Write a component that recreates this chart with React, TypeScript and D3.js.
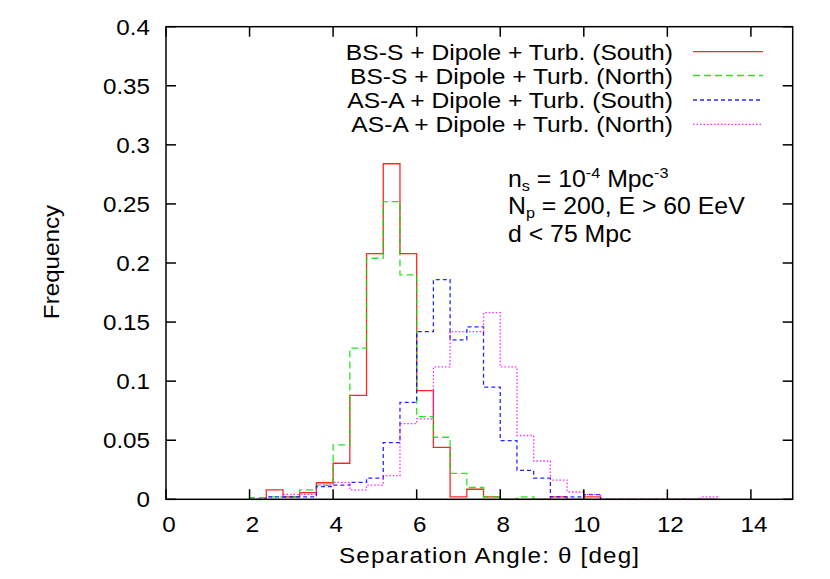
import React from "react";
import * as d3 from "d3";

// Bin left edges (deg), bin width 0.4
const binLefts = [2.0, 2.4, 2.8, 3.2, 3.6, 4.0, 4.4, 4.8, 5.2, 5.6, 6.0, 6.4, 6.8, 7.2, 7.6, 8.0, 8.4, 8.8, 9.2, 9.6, 10.0, 10.4, 10.8, 11.2, 11.6, 12.0, 12.4, 12.8];
const binWidth = 0.4;

const bssSouth = [0, 0.008, 0.002, 0.0056, 0.014, 0.0305, 0.088, 0.208, 0.284, 0.208, 0.092, 0.044, 0.002, 0.0085, 0.002, 0, 0, 0, 0.002, 0, 0.002, 0, 0, 0, 0, 0, 0, 0];
const bssNorth = [0.0015, 0.002, 0.002, 0.008, 0.012, 0.046, 0.128, 0.204, 0.252, 0.19, 0.07, 0.0525, 0.022, 0.01, 0.002, 0, 0.002, 0, 0, 0, 0, 0, 0, 0, 0, 0, 0, 0];
const asaSouth = [0, 0.002, 0.002, 0.002, 0.0107, 0.012, 0.0144, 0.018, 0.048, 0.082, 0.142, 0.186, 0.135, 0.146, 0.095, 0.0496, 0.0245, 0.018, 0.002, 0.002, 0.004, 0, 0, 0, 0, 0, 0, 0];
const asaNorth = [0, 0, 0.0042, 0.0042, 0.012, 0.0144, 0.008, 0.012, 0.02, 0.064, 0.068, 0.112, 0.142, 0.142, 0.158, 0.112, 0.054, 0.0324, 0.0163, 0.0062, 0.0042, 0, 0, 0, 0, 0, 0, 0.002];

const seriesNames = [
  "BS-S + Dipole + Turb. (South)",
  "BS-S + Dipole + Turb. (North)",
  "AS-A + Dipole + Turb. (South)",
  "AS-A + Dipole + Turb. (North)",
];
const seriesValues = [bssSouth, bssNorth, asaSouth, asaNorth];
const seriesColors = ["#ff0000", "#00e000", "#0000ff", "#ff00ff"];
const seriesDash = ["none", "7,4", "4,3", "1.5,2"];

const xTicks = [0, 2, 4, 6, 8, 10, 12, 14];
const yTicks = [0, 0.05, 0.1, 0.15, 0.2, 0.25, 0.3, 0.35, 0.4];
const yTickLabels = ["0", "0.05", "0.1", "0.15", "0.2", "0.25", "0.3", "0.35", "0.4"];

const W = 830;
const H = 579;
const L = 166;
const R = 792.7;
const T = 26.7;
const B = 499.3;
const FONT = "'Liberation Sans', Arial, Helvetica, sans-serif";
const FS = 22;
const SX = 1.1;

function ST(props: { x: number; y: number; anchor?: string; children: React.ReactNode; size?: number; rotate?: number; sx?: number; len?: number }) {
  const { x, y, anchor = "start", children, size = FS, rotate = 0, sx = SX, len } = props;
  const tr = rotate
    ? `translate(${x},${y}) rotate(${rotate}) scale(${sx},1)`
    : `translate(${x},${y}) scale(${sx},1)`;
  return (
    <text
      transform={tr}
      textAnchor={anchor}
      fontFamily={FONT}
      fontSize={size}
      fill="#000"
      textLength={len}
      lengthAdjust={len ? "spacing" : undefined}
    >
      {children}
    </text>
  );
}

export default function App() {
  const x = d3.scaleLinear().domain([0, 15]).range([L, R]);
  const y = d3.scaleLinear().domain([0, 0.4]).range([B, T]);

  const line = d3
    .line<[number, number]>()
    .x((d) => x(d[0]))
    .y((d) => y(d[1]))
    .curve(d3.curveStepAfter);

  const paths = seriesValues.map((vals) => {
    const pts: [number, number][] = [];
    pts.push([binLefts[0], 0]);
    vals.forEach((v, i) => pts.push([binLefts[i], v]));
    const lastEdge = binLefts[binLefts.length - 1] + binWidth;
    pts.push([lastEdge, vals[vals.length - 1]]);
    pts.push([lastEdge, 0]);
    return line(pts) as string;
  });

  const tickLen = 10;
  const legendRows = [51.7, 75.5, 100, 124.3];
  const ASX = 1.08;
  const AFS = 23;

  return (
    <svg width={W} height={H} style={{ position: "absolute", left: 0, top: 0, background: "#fff" }}>
      <rect x={0} y={0} width={W} height={H} fill="#fff" />
      {/* data */}
      <g>
        {paths.map((d, i) => (
          <path
            key={i}
            d={d}
            fill="none"
            stroke={seriesColors[i]}
            strokeWidth={1.3}
            strokeDasharray={seriesDash[i]}
            opacity={0.85}
          />
        ))}
      </g>
      {/* frame & ticks */}
      <g stroke="#000" strokeWidth={1.5}>
        {xTicks.map((t) => (
          <g key={"xt" + t}>
            <line x1={x(t)} x2={x(t)} y1={B} y2={B - tickLen} />
            <line x1={x(t)} x2={x(t)} y1={T} y2={T + tickLen} />
          </g>
        ))}
        {yTicks.map((t) => (
          <g key={"yt" + t}>
            <line x1={L} x2={L + tickLen} y1={y(t)} y2={y(t)} />
            <line x1={R} x2={R - tickLen} y1={y(t)} y2={y(t)} />
          </g>
        ))}
        <rect x={L} y={T} width={R - L} height={B - T} fill="none" />
      </g>
      {/* tick labels */}
      {xTicks.map((t) => (
        <ST key={"xl" + t} x={x(t) + 3} y={532} anchor="middle">
          {String(t)}
        </ST>
      ))}
      {yTicks.map((t, i) => (
        <ST key={"yl" + t} x={150} y={y(t) + 8} anchor="end">
          {yTickLabels[i]}
        </ST>
      ))}
      {/* axis titles */}
      <ST x={489} y={563} anchor="middle" len={300 / SX}>
        Separation Angle: θ [deg]
      </ST>
      <ST x={59} y={262} anchor="middle" rotate={-90}>
        Frequency
      </ST>
      {/* legend */}
      {seriesNames.map((n, i) => (
        <g key={"lg" + i}>
          <ST x={673} y={legendRows[i] + 8} anchor="end" sx={1.12}>
            {n}
          </ST>
          <line
            x1={693}
            x2={763}
            y1={legendRows[i]}
            y2={legendRows[i]}
            stroke={seriesColors[i]}
            strokeWidth={1.3}
            strokeDasharray={seriesDash[i]}
            opacity={0.85}
          />
        </g>
      ))}
      {/* annotation */}
      <text transform={`translate(508,187) scale(${ASX},1)`} fontFamily={FONT} fontSize={AFS}>
        n<tspan fontSize={15} dy={4}>s</tspan>
        <tspan dy={-4}> = 10</tspan>
        <tspan fontSize={15} dy={-9}>-4</tspan>
        <tspan dy={9}> Mpc</tspan>
        <tspan fontSize={15} dy={-9}>-3</tspan>
      </text>
      <text transform={`translate(508,214) scale(${ASX},1)`} fontFamily={FONT} fontSize={AFS}>
        N<tspan fontSize={15} dy={4}>p</tspan>
        <tspan dy={-4}> = 200, E &gt; 60 EeV</tspan>
      </text>
      <text transform={`translate(508,242) scale(${ASX},1)`} fontFamily={FONT} fontSize={AFS}>
        d &lt; 75 Mpc
      </text>
    </svg>
  );
}
